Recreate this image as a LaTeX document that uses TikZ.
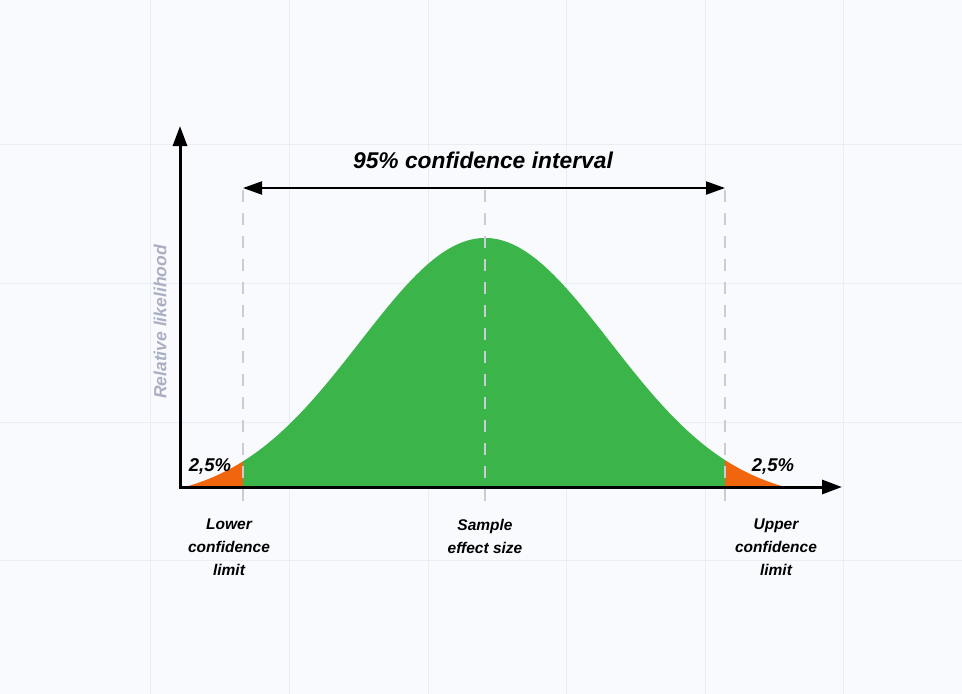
\documentclass[tikz,border=0pt]{standalone}
\usepackage{fontspec}
\setmainfont{Liberation Sans}
\usetikzlibrary{arrows.meta}
\definecolor{bgc}{HTML}{F8FAFD}
\definecolor{gridc}{HTML}{E9EEF4}
\definecolor{greenc}{HTML}{3BB44A}
\definecolor{orangec}{HTML}{F2650F}
\definecolor{dashc}{HTML}{CACDD1}
\definecolor{ylab}{HTML}{ABAFC4}
\tikzset{
  axisline/.style={line width=3pt, -{Triangle[length=20pt,width=14pt]}},
  cilink/.style={line width=2pt, {Triangle[length=19pt,width=13pt]}-{Triangle[length=19pt,width=13pt]}},
  guide/.style={dashc, line width=1.2pt, dash pattern=on 12pt off 11pt},
  lbl/.style={font=\bfseries\itshape\fontsize{15.5}{23}\selectfont, align=center, inner sep=0pt},
  pct/.style={font=\bfseries\itshape\fontsize{18.5}{20}\selectfont, inner sep=0pt},
  declare function={f(\x)=249*(exp(-((\x-485)/100)^2/3.125)-0.0561)/0.9439;}
}
\begin{document}
\begin{tikzpicture}[x=1pt,y=-1pt]
\useasboundingbox (0,0) rectangle (962,694);
\fill[bgc] (0,0) rectangle (962,694);
% faint grid
\foreach \gx in {150,289,428,566,705,843} \draw[gridc, line width=0.8pt] (\gx,0) -- (\gx,694);
\foreach \gy in {144,283,422,560} \draw[gridc, line width=0.8pt] (0,\gy) -- (962,\gy);
% areas
\fill[orangec] (185,487) -- plot[domain=185:243, samples=30, smooth] ({\x},{487-f(\x)}) -- (243,487) -- cycle;
\fill[greenc] (243,487) -- plot[domain=243:725, samples=120, smooth] ({\x},{487-f(\x)}) -- (725,487) -- cycle;
\fill[orangec] (725,487) -- plot[domain=725:785, samples=30, smooth] ({\x},{487-f(\x)}) -- (785,487) -- cycle;
% coordinates
\coordinate (O) at (180,487);
\coordinate (ytip) at (180,126);
\coordinate (xtip) at (842,487);
\coordinate (lowtop) at (243,190);
\coordinate (lowbot) at (243,502);
\coordinate (midtop) at (485,190);
\coordinate (midbot) at (485,502);
\coordinate (uptop) at (725,190);
\coordinate (upbot) at (725,502);
\coordinate (ciL) at (243,188);
\coordinate (ciR) at (725,188);
% guides
\draw[guide] (lowtop) -- (lowbot);
\draw[guide] (midtop) -- (midbot);
\draw[guide] (uptop) -- (upbot);
% axes
\draw[axisline] ([xshift=-1.5pt]O) -- (xtip);
\draw[axisline] ([yshift=1.5pt]O) -- (ytip);
% CI arrow
\draw[cilink] (ciL) -- (ciR);
% texts
\node[font=\bfseries\itshape\fontsize{22.8}{25}\selectfont, inner sep=0pt] (title) at (483,160) {95\% confidence interval};
\node[font=\bfseries\itshape\fontsize{17.5}{19}\selectfont, text=ylab, rotate=90, inner sep=0pt] (ylabel) at (160,322) {Relative likelihood};
\node[pct] (pl) at (210,466) {2,5\%};
\node[pct] (pr) at (773,466) {2,5\%};
\node[lbl] (lower) at (229,547) {Lower\\confidence\\limit};
\node[lbl] (sample) at (485,536) {Sample\\effect size};
\node[lbl] (upper) at (776,547) {Upper\\confidence\\limit};
\end{tikzpicture}
\end{document}
